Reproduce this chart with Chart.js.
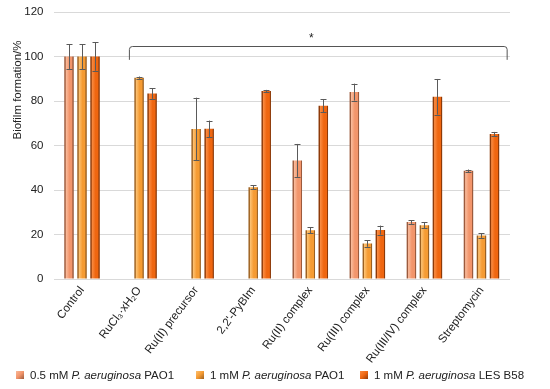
<!DOCTYPE html>
<html>
<head>
<meta charset="utf-8">
<script src="https://cdn.jsdelivr.net/npm/chart.js@4/dist/chart.umd.min.js"></script>
<style>
  html, body { margin: 0; padding: 0; background: #fff; }
  #wrap { position: relative; width: 550px; height: 389px; }
  #legend { position: absolute; left: 0; top: 367px; width: 550px; height: 16px;
    font-family: "Liberation Sans", Arial, sans-serif; font-size: 11.5px; color: #222; }
  .item { position: absolute; top: 0; white-space: nowrap; line-height: 16px; }
  .sw { display: inline-block; width: 8px; height: 8px; margin-right: 6px; }
</style>
</head>
<body>
<div id="wrap">
  <canvas id="c" width="550" height="389"></canvas>
  <div id="legend"></div>
</div>
<script>
const categories = ["Control", "RuCl\u2083\u00B7xH\u2082O", "Ru(II) precursor", "2,2'-PyBIm",
  "Ru(II) complex", "Ru(III) complex", "Ru(III/IV) complex", "Streptomycin"];
const seriesNames = [
  ["0.5 mM ", "P. aeruginosa", " PAO1"],
  ["1 mM ", "P. aeruginosa", " PAO1"],
  ["1 mM ", "P. aeruginosa", " LES B58"]
];
const pao1_05 = [100, null, null, null, 53.3, 84, 25.6, 48.6];
const pao1_1 = [100, 90.5, 67.4, 41.2, 21.9, 16, 24.2, 19.5];
const les_1 = [100, 83.4, 67.5, 84.5, 77.9, 22, 81.9, 65.2];
const err_pao1_05 = [5.6, 0, 0, 0, 7.4, 3.8, 0.8, 0.6];
const err_pao1_1 = [5.6, 0.5, 14.1, 0.9, 1.4, 1.5, 1.3, 1.0];
const err_les_1 = [6.4, 2.4, 3.7, 0.5, 3.0, 2.0, 8.0, 0.9];
const yTicks = [0, 20, 40, 60, 80, 100, 120];
const yTitle = "Biofilm formation/%";
const bracketLabel = "*";

const baseColors = ["#F2956B", "#F59B33", "#EF6610"];
const lightColors = ["#F9B999", "#FCC070", "#F98A40"];
const darkColors = ["#9C5A3C", "#9C6020", "#8E3A08"];

const FONT = "'Liberation Sans', Arial, sans-serif";

function makeGrad(ctx, x0, x1, i) {
  const g = ctx.createLinearGradient(x0, 0, x1, 0);
  g.addColorStop(0, darkColors[i]);
  g.addColorStop(0.1, darkColors[i]);
  g.addColorStop(0.2, lightColors[i]);
  g.addColorStop(0.55, baseColors[i]);
  g.addColorStop(0.84, baseColors[i]);
  g.addColorStop(0.88, darkColors[i]);
  g.addColorStop(1, darkColors[i]);
  return g;
}

const gradientPlugin = {
  id: 'gradBars',
  beforeDatasetsDraw(chart) {
    const ctx = chart.ctx;
    chart.data.datasets.forEach((ds, i) => {
      chart.getDatasetMeta(i).data.forEach(el => {
        const w = el.width;
        el.options = Object.assign(Object.create(Object.getPrototypeOf(el.options)), el.options);
        el.options.backgroundColor = makeGrad(ctx, el.x - w / 2, el.x + w / 2, i);
      });
    });
  }
};

const errors = [err_pao1_05, err_pao1_1, err_les_1];
const errorPlugin = {
  id: 'errBars',
  afterDatasetsDraw(chart) {
    const ctx = chart.ctx;
    const y = chart.scales.y;
    ctx.save();
    ctx.strokeStyle = "#5a5a5a";
    ctx.lineWidth = 1;
    chart.data.datasets.forEach((ds, i) => {
      chart.getDatasetMeta(i).data.forEach((el, j) => {
        const v = ds.data[j];
        if (v === null || v === undefined) return;
        const e = errors[i][j];
        const yt = y.getPixelForValue(v + e), yb = y.getPixelForValue(v - e);
        const x = Math.round(el.x) + 0.5;
        ctx.beginPath();
        ctx.moveTo(x, yt); ctx.lineTo(x, yb);
        ctx.moveTo(x - 3, Math.round(yt) + 0.5); ctx.lineTo(x + 3, Math.round(yt) + 0.5);
        ctx.moveTo(x - 3, Math.round(yb) + 0.5); ctx.lineTo(x + 3, Math.round(yb) + 0.5);
        ctx.stroke();
      });
    });
    ctx.restore();
  }
};

const bracketPlugin = {
  id: 'bracket',
  afterDatasetsDraw(chart) {
    const ctx = chart.ctx;
    const xs = chart.scales.x, ys = chart.scales.y;
    const cw = xs.getPixelForValue(1) - xs.getPixelForValue(0);
    const x0 = xs.getPixelForValue(1) - 0.17 * cw;
    const x1 = xs.getPixelForValue(7) + 0.45 * cw;
    const yTop = Math.round(ys.getPixelForValue(104.6)) + 0.5;
    const yEnd = ys.getPixelForValue(98.5);
    ctx.save();
    ctx.strokeStyle = "#555";
    ctx.lineWidth = 1;
    ctx.beginPath();
    ctx.moveTo(x0, yEnd);
    ctx.lineTo(x0, yTop + 3);
    ctx.quadraticCurveTo(x0, yTop, x0 + 3, yTop);
    ctx.lineTo(x1 - 3, yTop);
    ctx.quadraticCurveTo(x1, yTop, x1, yTop + 3);
    ctx.lineTo(x1, yEnd);
    ctx.stroke();
    ctx.fillStyle = "#222";
    ctx.font = "12px " + FONT;
    ctx.textAlign = "center";
    ctx.textBaseline = "middle";
    ctx.fillText(bracketLabel, (x0 + x1) / 2 - 7, yTop - 8);
    ctx.restore();
  }
};

const yTitlePlugin = {
  id: 'yTitle',
  afterDraw(chart) {
    const ctx = chart.ctx;
    ctx.save();
    ctx.translate(18, 90);
    ctx.rotate(-Math.PI / 2);
    ctx.fillStyle = "#222";
    ctx.font = "11.5px " + FONT;
    ctx.textAlign = "center";
    ctx.textBaseline = "middle";
    ctx.fillText(yTitle, 0, 0);
    ctx.restore();
  }
};

new Chart(document.getElementById('c'), {
  type: 'bar',
  data: {
    labels: categories,
    datasets: [
      { label: seriesNames[0].join(''), data: pao1_05 },
      { label: seriesNames[1].join(''), data: pao1_1 },
      { label: seriesNames[2].join(''), data: les_1 }
    ]
  },
  options: {
    responsive: false,
    animation: false,
    devicePixelRatio: 1,
    categoryPercentage: 0.684,
    barPercentage: 0.73,
    backgroundColor: (c) => baseColors[c.datasetIndex],
    borderWidth: 0,
    layout: { padding: { left: 0, right: 40, top: 12, bottom: 0 } },
    plugins: { legend: { display: false }, tooltip: { enabled: false } },
    scales: {
      x: {
        grid: { display: false, drawTicks: false },
        border: { display: false },
        ticks: { font: { family: FONT, size: 11.5 }, color: "#222", maxRotation: 53, minRotation: 53, padding: 5, autoSkip: false },
        afterFit(s) { s.height = 110; s.paddingTop = 0; s.paddingBottom = 0; }
      },
      y: {
        min: 0, max: 120,
        afterBuildTicks(s) { s.ticks = yTicks.map(v => ({ value: v })); },
        grid: { color: "#d9d9d9", drawTicks: false },
        border: { display: false },
        ticks: { font: { family: FONT, size: 11.5 }, color: "#222", padding: 10 },
        afterFit(s) { s.width = 53.5; s.paddingTop = 0; s.paddingBottom = 0; }
      }
    }
  },
  plugins: [gradientPlugin, errorPlugin, bracketPlugin, yTitlePlugin]
});

// HTML legend with italic species name
const legend = document.getElementById('legend');
const lefts = [16, 196, 360];
seriesNames.forEach((parts, i) => {
  const d = document.createElement('div');
  d.className = 'item';
  d.style.left = lefts[i] + 'px';
  const sw = document.createElement('span');
  sw.className = 'sw';
  sw.style.background = `linear-gradient(135deg, ${lightColors[i]} 0%, ${baseColors[i]} 50%, ${darkColors[i]} 100%)`;
  d.appendChild(sw);
  d.appendChild(document.createTextNode(parts[0]));
  const it = document.createElement('i');
  it.textContent = parts[1];
  d.appendChild(it);
  d.appendChild(document.createTextNode(parts[2]));
  legend.appendChild(d);
});
</script>
</body>
</html>
